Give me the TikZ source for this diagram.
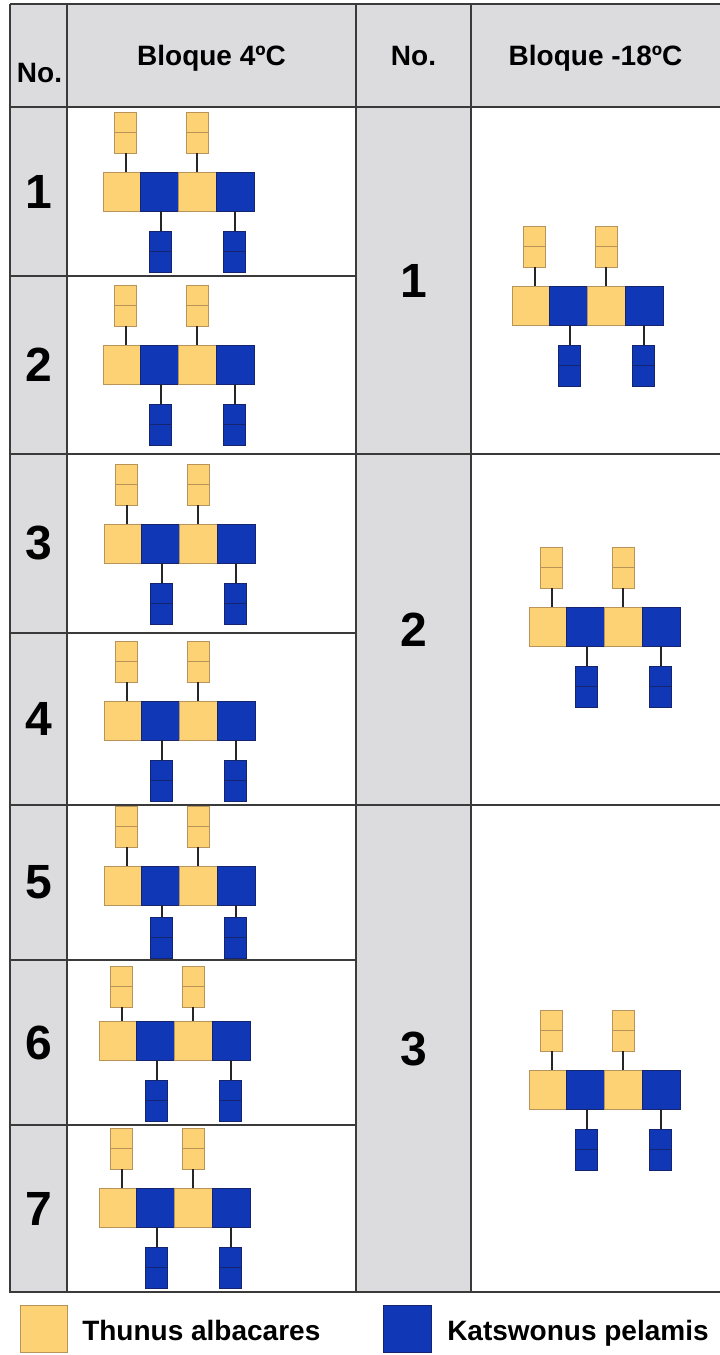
\documentclass[tikz,border=0pt]{standalone}
\usepackage{fontspec}
\setmainfont{Liberation Sans}
\usetikzlibrary{positioning}

\definecolor{tunayel}{HTML}{FDD275}
\definecolor{tunaedge}{HTML}{B8935A}
\definecolor{skipblue}{HTML}{1037B5}
\definecolor{skipedge}{HTML}{14246E}
\definecolor{cellgray}{HTML}{DCDCDE}
\definecolor{rulegray}{HTML}{3A3A3A}

\begin{document}
\begin{tikzpicture}[x=0.75pt,y=0.75pt,yscale=-1,xscale=1,
  grid/.style={draw=rulegray, line width=1.1pt},
  stem/.style={draw=black!85, line width=1.5pt},
  yelcell/.style={draw=tunaedge, fill=tunayel, line width=0.5pt, minimum width=28.3pt, minimum height=29.25pt, inner sep=0pt, outer sep=0pt, anchor=north west},
  bluecell/.style={yelcell, draw=skipedge, fill=skipblue},
  yelbar/.style={draw=tunaedge, fill=tunayel, line width=0.6pt, minimum width=16.5pt, minimum height=30.75pt, inner sep=0pt, outer sep=0pt,
    path picture={\draw[tunaedge, line width=1pt] (path picture bounding box.west) -- (path picture bounding box.east);}},
  bluebar/.style={draw=skipedge, fill=skipblue, line width=0.6pt, minimum width=16.5pt, minimum height=30.75pt, inner sep=0pt, outer sep=0pt,
    path picture={\draw[skipedge, line width=1pt] (path picture bounding box.west) -- (path picture bounding box.east);}},
  headtxt/.style={font=\bfseries\fontsize{21}{24}\selectfont, inner sep=0pt, anchor=base},
  numtxt/.style={font=\bfseries\fontsize{36}{40}\selectfont, inner sep=0pt},
  legtxt/.style={font=\bfseries\fontsize{21}{24}\selectfont, inner sep=0pt, anchor=base west}]
\useasboundingbox (0,0) rectangle (720,1355);

%Shape: gray header and No. columns
\fill[cellgray] (10,4) rectangle (720,107);
\fill[cellgray] (10,107) rectangle (67,1292);
\fill[cellgray] (356,107) rectangle (471,1292);

%Straight Lines: table frame
\draw[grid] (10,4) -- (720,4);
\draw[grid] (10,4) -- (10,1292) -- (720,1292);
\draw[grid] (10,107) -- (720,107);
\foreach \xc in {67,356,471}{
  \draw[grid] (\xc,4) -- (\xc,1292);
}
\foreach \yr in {276,633,960,1125}{
  \draw[grid] (10,\yr) -- (356,\yr);
}
\foreach \yr in {454,805}{
  \draw[grid] (10,\yr) -- (720,\yr);
}

%Text: header
\node[headtxt] (hNoA) at (39.5,83) {No.};
\node[headtxt] (hBloqA) at (211.5,66) {Bloque 4ºC};
\node[headtxt] (hNoB) at (413.5,66) {No.};
\node[headtxt] (hBloqB) at (595.5,66) {Bloque -18ºC};

%Text: block numbers
\foreach \nr/\yc in {1/191.5,2/365,3/543.5,4/719,5/882.5,6/1042.5,7/1208.5}{
  \node[numtxt] (left\nr) at (39,\yc) {\nr};
}
\foreach \nr/\yc in {1/280.5,2/629.5,3/1048.5}{
  \node[numtxt] (right\nr) at (413.5,\yc) {\nr};
}

%Shape: fish arrangement in each block (origin, top gap, bottom gap)
\foreach \blk/\ux/\uy/\tg/\bg in {a/103/172/19/20,b/103/345/19/20,c/104/524/19/20,d/104/701/19/20,e/104/866/19/12,
    f/99/1021/14/20,g/99/1188/19/20,h/512/286/19/20,i/529/607/19/20,j/529/1070/19/20}{
  \begin{scope}[shift={(\ux,\uy)}]
    \node[yelcell] (\blk c1) at (0,0) {};
    \node[bluecell] (\blk c2) at (37.75,0) {};
    \node[yelcell] (\blk c3) at (75.5,0) {};
    \node[bluecell] (\blk c4) at (113.25,0) {};
    \node[yelbar, anchor=south] (\blk t1) at (22.5,-\tg) {};
    \node[yelbar, anchor=south] (\blk t2) at (94,-\tg) {};
    \node[bluebar, anchor=north] (\blk b1) at (57.5,39+\bg) {};
    \node[bluebar, anchor=north] (\blk b2) at (131.5,39+\bg) {};
    \draw[stem] (\blk t1.south) -- (\blk t1.south |- \blk c1.north);
    \draw[stem] (\blk t2.south) -- (\blk t2.south |- \blk c3.north);
    \draw[stem] (\blk b1.north) -- (\blk b1.north |- \blk c2.south);
    \draw[stem] (\blk b2.north) -- (\blk b2.north |- \blk c4.south);
  \end{scope}
}

%Legend
\node[yelcell, minimum width=35.25pt, minimum height=35.25pt] (legTa) at (20,1305) {};
\node[legtxt] (legTaTxt) at (82,1340) {Thunus albacares};
\node[bluecell, minimum width=36pt, minimum height=35.25pt] (legKp) at (383,1305) {};
\node[legtxt] (legKpTxt) at (447,1340) {Katswonus pelamis};

\end{tikzpicture}
\end{document}
